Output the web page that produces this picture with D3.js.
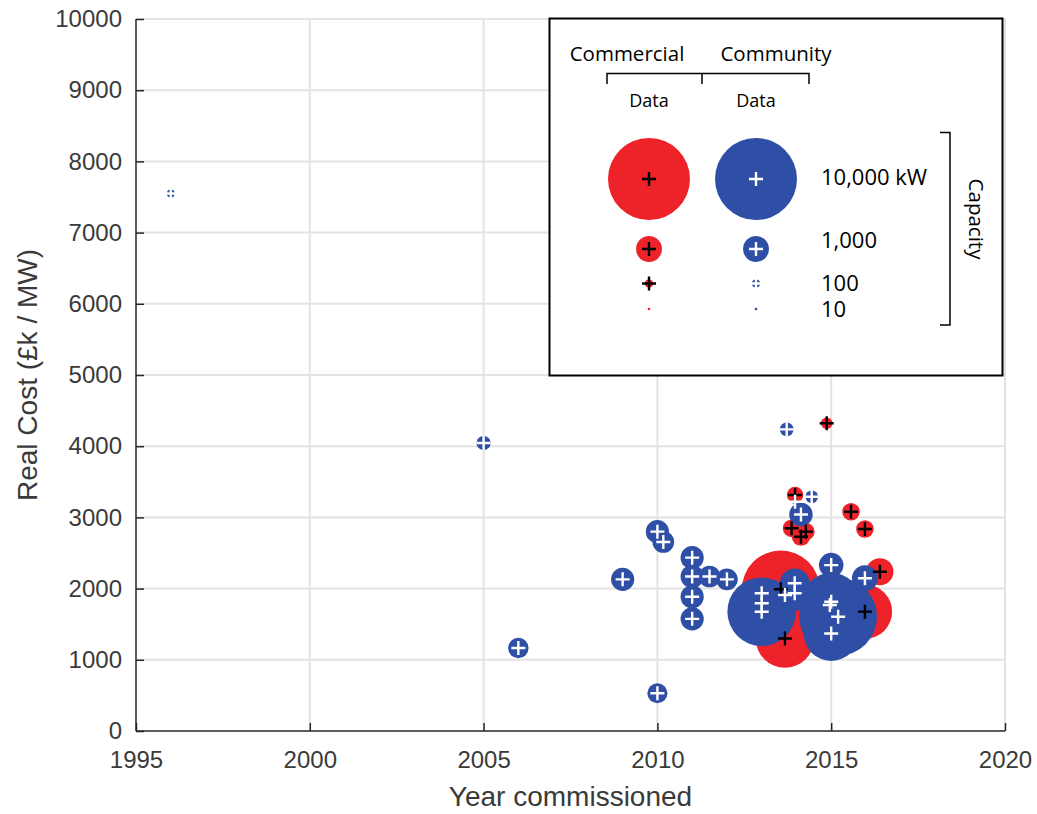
<!DOCTYPE html>
<html>
<head>
<meta charset="utf-8">
<script src="https://cdn.jsdelivr.net/npm/d3@7"></script>
<style>
  html, body { margin: 0; padding: 0; background: #fff; }
  svg { display: block; }
</style>
</head>
<body>
<svg id="chart" width="1037" height="814"></svg>
<script>
// ---------------- DATA ----------------
// Commercial schemes (red): year commissioned, real cost (£k/MW), capacity (kW)
const commercialYear = [2013.55, 2013.67, 2015.97, 2016.40, 2014.87, 2013.96, 2013.86, 2014.27, 2014.13, 2015.57, 2015.97];
const commercialCost = [1990, 1300, 1676, 2237, 4322, 3315, 2847, 2800, 2729, 3080, 2837];
const commercialCap  = [9000, 5100, 4400, 1100, 200, 400, 460, 460, 500, 460, 460];

// Community schemes (blue)
const communityYear = [1996.0, 2005.0, 2006.0, 2009.0, 2010.0, 2010.17, 2011.0, 2011.0, 2011.0, 2011.0, 2011.5, 2012.0, 2010.0,
                       2013.0, 2013.0, 2013.0, 2013.95, 2013.95, 2013.67,
                       2015.0, 2015.0, 2014.96, 2015.2, 2015.0, 2015.97,
                       2013.72, 2014.44, 2014.13, 2013.96];
const communityCost = [7550, 4045, 1165, 2130, 2800, 2655, 2435, 2170, 1885, 1575, 2170, 2130, 530,
                       1935, 1795, 1675, 2075, 1935, 1910,
                       2330, 1815, 1770, 1605, 1370, 2145,
                       4237, 3290, 3040, 3220];
const communityCap  = [90, 300, 620, 800, 800, 700, 800, 800, 800, 800, 700, 700, 600,
                       1300, 2300, 7000, 1300, 1850, 800,
                       900, 5000, 2000, 9000, 4500, 1000,
                       280, 240, 820, 40];

// Axis ticks
const xTicks = [1995, 2000, 2005, 2010, 2015, 2020];
const yTicks = [0, 1000, 2000, 3000, 4000, 5000, 6000, 7000, 8000, 9000, 10000];

// Legend
const legendCaps   = [10000, 1000, 100, 10];
const legendLabels = ["10,000 kW", "1,000", "100", "10"];
const groupNames   = ["Commercial", "Community"];

// ---------------- DRAW ----------------
const svg = d3.select("#chart");
const pL = 136, pR = 1005, pT = 19, pB = 731;
const x = d3.scaleLinear().domain([1995, 2020]).range([pL, pR]);
const y = d3.scaleLinear().domain([0, 10000]).range([pB, pT]);
const r = d3.scaleSqrt().domain([0, 10000]).range([0, 41]);

const RED = "#ee2229", BLUE = "#2f4fa6";
const axisFont = "'Liberation Sans', Arial, Helvetica, sans-serif";
const legFont = "'Open Sans', 'Noto Sans', sans-serif";

// grid
const grid = svg.append("g");
grid.selectAll("line.gx").data(xTicks.slice(1)).join("line")
  .attr("x1", d => x(d)).attr("x2", d => x(d)).attr("y1", pT).attr("y2", pB)
  .attr("stroke", "#e3e3e3").attr("stroke-width", 2);
grid.selectAll("line.gy").data(yTicks.slice(1)).join("line")
  .attr("y1", d => y(d)).attr("y2", d => y(d)).attr("x1", pL).attr("x2", pR)
  .attr("stroke", "#e3e3e3").attr("stroke-width", 2);

// axes
const xAxis = d3.axisBottom(x).tickValues(xTicks).tickSize(-8).tickPadding(14).tickFormat(d3.format("d"));
const yAxis = d3.axisLeft(y).tickValues(yTicks).tickSize(-8).tickPadding(14).tickFormat(d3.format("d"));
const gx = svg.append("g").attr("transform", `translate(0,${pB})`).call(xAxis);
const gy = svg.append("g").attr("transform", `translate(${pL},0)`).call(yAxis);
[gx, gy].forEach(g => {
  g.select(".domain").attr("stroke", "#262626").attr("stroke-width", 1.5);
  g.selectAll(".tick line").attr("stroke", "#262626").attr("stroke-width", 1.5);
  g.selectAll(".tick text").attr("fill", "#3a3a3a").style("font-family", axisFont).style("font-size", "24px");
});
gx.select(".domain").attr("d", `M${pL},0H${pR}`);
gy.select(".domain").attr("d", `M0,${pT}V${pB}`);
gx.selectAll(".tick text").attr("dy", "0.71em").attr("y", 20);

svg.append("text").attr("x", (pL + pR) / 2).attr("y", 806)
  .attr("text-anchor", "middle").attr("fill", "#3a3a3a")
  .style("font-family", axisFont).style("font-size", "28px")
  .text("Year commissioned");
svg.append("text").attr("transform", `translate(37,${(pT + pB) / 2}) rotate(-90)`)
  .attr("text-anchor", "middle").attr("fill", "#3a3a3a")
  .style("font-family", axisFont).style("font-size", "28px")
  .text("Real Cost (£k / MW)");

// data
const comm = commercialYear.map((d, i) => ({year: d, cost: commercialCost[i], cap: commercialCap[i]}));
const cmty = communityYear.map((d, i) => ({year: d, cost: communityCost[i], cap: communityCap[i]}));
const sortDesc = arr => arr.slice().sort((a, b) => b.cap - a.cap);
const pts = svg.append("g");
pts.selectAll("circle.c").data(sortDesc(comm)).join("circle")
  .attr("cx", d => x(d.year)).attr("cy", d => y(d.cost)).attr("r", d => r(d.cap)).attr("fill", RED);
pts.selectAll("circle.m").data(sortDesc(cmty)).join("circle")
  .attr("cx", d => x(d.year)).attr("cy", d => y(d.cost)).attr("r", d => r(d.cap)).attr("fill", BLUE);
const cross = "M-7,0H7M0,-7V7";
pts.selectAll("path.c").data(comm).join("path")
  .attr("transform", d => `translate(${x(d.year)},${y(d.cost)})`).attr("d", cross)
  .attr("stroke", "#000").attr("stroke-width", 2.4).attr("fill", "none");
pts.selectAll("path.m").data(cmty).join("path")
  .attr("transform", d => `translate(${x(d.year)},${y(d.cost)})`).attr("d", cross)
  .attr("stroke", "#fff").attr("stroke-width", 2.4).attr("fill", "none");

// legend
const leg = svg.append("g");
leg.append("rect").attr("x", 549.5).attr("y", 18.5).attr("width", 453).attr("height", 357)
  .attr("fill", "#fff").attr("stroke", "#000").attr("stroke-width", 2);
const colX = [649, 756];
leg.selectAll("text.grp").data(groupNames).join("text")
  .attr("x", (d, i) => [627, 776][i]).attr("y", 61).attr("text-anchor", "middle")
  .style("font-family", legFont).style("font-size", "20.5px").attr("fill", "#000").text(d => d);
leg.append("path").attr("d", "M607,84V73.5H809V84M702,73.5V84")
  .attr("fill", "none").attr("stroke", "#000").attr("stroke-width", 1.5);
leg.selectAll("text.data").data(colX).join("text")
  .attr("x", d => d).attr("y", 107).attr("text-anchor", "middle")
  .style("font-family", legFont).style("font-size", "18px").attr("fill", "#000").text("Data");
const legY = [179, 249, 283.5, 309];
legendCaps.forEach((c, i) => {
  leg.append("circle").attr("cx", colX[0]).attr("cy", legY[i]).attr("r", r(c)).attr("fill", RED);
  leg.append("circle").attr("cx", colX[1]).attr("cy", legY[i]).attr("r", r(c)).attr("fill", BLUE);
  if (c >= 100) {
    leg.append("path").attr("transform", `translate(${colX[0]},${legY[i]})`).attr("d", cross)
      .attr("stroke", "#000").attr("stroke-width", 2.4).attr("fill", "none");
    leg.append("path").attr("transform", `translate(${colX[1]},${legY[i]})`).attr("d", cross)
      .attr("stroke", "#fff").attr("stroke-width", 2.4).attr("fill", "none");
  }
});
const labY = [185, 248, 291, 317];
leg.selectAll("text.cap").data(legendLabels).join("text")
  .attr("x", 821).attr("y", (d, i) => labY[i])
  .style("font-family", legFont).style("font-size", "22px").attr("fill", "#000").text(d => d);
leg.append("path").attr("d", "M940,132.5H950V325H940")
  .attr("fill", "none").attr("stroke", "#000").attr("stroke-width", 1.5);
leg.append("text").attr("transform", "translate(969,219) rotate(90)").attr("text-anchor", "middle")
  .style("font-family", legFont).style("font-size", "20.5px").attr("fill", "#000").text("Capacity");
</script>
</body>
</html>
